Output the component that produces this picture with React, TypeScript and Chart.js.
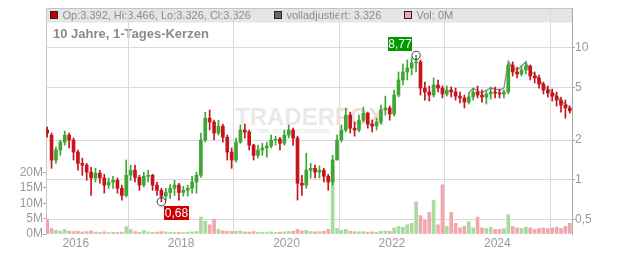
import React, { useEffect, useRef } from "react";
import { Chart, registerables } from "chart.js";

Chart.register(...registerables);

const months: string[] = [
  "2015-06", "2015-07", "2015-08", "2015-09", "2015-10", "2015-11", "2015-12",
  "2016-01", "2016-02", "2016-03", "2016-04", "2016-05", "2016-06", "2016-07", "2016-08", "2016-09", "2016-10", "2016-11", "2016-12",
  "2017-01", "2017-02", "2017-03", "2017-04", "2017-05", "2017-06", "2017-07", "2017-08", "2017-09", "2017-10", "2017-11", "2017-12",
  "2018-01", "2018-02", "2018-03", "2018-04", "2018-05", "2018-06", "2018-07", "2018-08", "2018-09", "2018-10", "2018-11", "2018-12",
  "2019-01", "2019-02", "2019-03", "2019-04", "2019-05", "2019-06", "2019-07", "2019-08", "2019-09", "2019-10", "2019-11", "2019-12",
  "2020-01", "2020-02", "2020-03", "2020-04", "2020-05", "2020-06", "2020-07", "2020-08", "2020-09", "2020-10", "2020-11", "2020-12",
  "2021-01", "2021-02", "2021-03", "2021-04", "2021-05", "2021-06", "2021-07", "2021-08", "2021-09", "2021-10", "2021-11", "2021-12",
  "2022-01", "2022-02", "2022-03", "2022-04", "2022-05", "2022-06", "2022-07", "2022-08", "2022-09", "2022-10", "2022-11", "2022-12",
  "2023-01", "2023-02", "2023-03", "2023-04", "2023-05", "2023-06", "2023-07", "2023-08", "2023-09", "2023-10", "2023-11", "2023-12",
  "2024-01", "2024-02", "2024-03", "2024-04", "2024-05", "2024-06", "2024-07", "2024-08", "2024-09", "2024-10", "2024-11", "2024-12",
  "2025-01", "2025-02", "2025-03", "2025-04", "2025-05",
];

const openPrices: number[] = [
  2.38, 2.18, 1.41, 1.68, 1.93, 2.18, 2.0,
  1.62, 1.33, 1.29, 1.14, 1.03, 1.12, 1.03, 0.91, 0.96, 0.99, 0.86, 0.76,
  1.08, 1.18, 1.04, 0.91, 1.06, 1.08, 0.91, 0.83, 0.75, 0.8, 0.86, 0.91,
  0.8, 0.83, 0.86, 0.96, 1.08, 2.0, 2.93, 2.74, 2.26, 2.55, 2.1, 1.62,
  1.41, 1.93, 2.38, 2.3, 1.83, 1.53, 1.68, 1.74, 1.8, 2.0, 2.03, 1.89,
  2.18, 2.38, 2.07, 0.94, 0.91, 1.18, 1.22, 1.14, 1.18, 1.06, 0.96, 1.41,
  2.0, 2.38, 3.09, 2.46, 2.38, 2.83, 3.2, 2.64, 2.55, 2.74, 3.38, 3.5,
  3.15, 4.39, 5.71, 6.57, 7.04, 7.69, 7.83, 4.96, 4.63, 4.39, 5.23, 4.96,
  4.47, 4.79, 4.63, 4.31, 4.17, 3.88, 4.24, 4.63, 4.39, 4.24, 4.47, 4.63,
  4.55, 4.47, 4.63, 7.42, 6.57, 6.34, 6.8, 7.3, 6.12, 5.91, 5.32, 4.79,
  4.55, 4.31, 4.02, 3.68, 3.5,
];

const highPrices: number[] = [
  2.51, 2.26, 1.77, 2.0, 2.34, 2.26, 2.07,
  1.68, 1.46, 1.33, 1.24, 1.22, 1.18, 1.1, 1.03, 1.06, 1.03, 0.91, 1.41,
  1.29, 1.29, 1.08, 1.14, 1.18, 1.1, 0.96, 0.86, 0.86, 0.92, 0.99, 0.94,
  0.89, 0.91, 1.06, 1.14, 2.26, 3.26, 3.38, 2.83, 2.83, 2.64, 2.18, 1.74,
  2.07, 2.6, 2.64, 2.38, 1.86, 1.83, 1.89, 1.93, 2.18, 2.14, 2.1, 2.38,
  2.6, 2.46, 2.14, 1.08, 1.59, 1.33, 1.29, 1.27, 1.22, 1.1, 1.53, 2.18,
  2.6, 3.5, 3.26, 2.74, 3.09, 3.56, 3.26, 2.83, 2.93, 3.68, 4.31, 3.62,
  4.79, 6.57, 7.56, 8.1, 8.39, 8.77, 8.1, 5.51, 5.14, 5.91, 5.71, 5.14,
  5.14, 5.05, 4.96, 4.63, 4.39, 4.55, 4.96, 5.14, 4.79, 4.71, 5.05, 5.05,
  4.88, 4.79, 7.56, 7.83, 7.17, 7.3, 7.83, 7.42, 6.57, 6.23, 5.51, 5.14,
  4.88, 4.63, 4.24, 4.02, 3.62,
];

const lowPrices: number[] = [
  2.1, 1.22, 1.33, 1.53, 1.83, 1.74, 1.41,
  1.18, 1.08, 0.99, 0.76, 0.96, 0.94, 0.79, 0.86, 0.86, 0.79, 0.7, 0.74,
  0.99, 0.96, 0.83, 0.88, 0.96, 0.83, 0.76, 0.68, 0.7, 0.72, 0.76, 0.7,
  0.75, 0.75, 0.79, 0.79, 1.04, 1.93, 2.38, 2.0, 2.18, 1.93, 1.41, 1.22,
  1.36, 1.89, 2.07, 1.68, 1.41, 1.46, 1.53, 1.48, 1.74, 1.83, 1.68, 1.83,
  2.07, 1.83, 0.7, 0.76, 0.86, 1.03, 1.03, 1.03, 0.96, 0.83, 0.91, 1.41,
  1.93, 2.3, 2.26, 2.14, 2.3, 2.74, 2.46, 2.3, 2.38, 2.64, 3.09, 2.83,
  3.04, 4.24, 5.23, 5.71, 6.23, 6.57, 4.39, 4.02, 3.95, 4.24, 4.63, 4.17,
  4.31, 4.24, 4.02, 3.82, 3.5, 3.75, 4.02, 4.17, 3.88, 3.75, 4.09, 4.17,
  4.17, 4.17, 4.47, 6.12, 5.91, 6.12, 6.34, 5.71, 5.42, 4.96, 4.47, 4.24,
  3.95, 3.62, 3.26, 2.93, 3.2,
];

const closePrices: number[] = [
  2.26, 1.41, 1.68, 1.93, 2.18, 2.0, 1.62,
  1.33, 1.29, 1.14, 1.03, 1.12, 1.03, 0.91, 0.96, 0.99, 0.86, 0.76, 1.08,
  1.18, 1.04, 0.91, 1.06, 1.08, 0.91, 0.83, 0.75, 0.8, 0.86, 0.91, 0.8,
  0.83, 0.86, 0.96, 1.08, 2.0, 2.93, 2.74, 2.26, 2.55, 2.1, 1.62, 1.41,
  1.93, 2.38, 2.3, 1.83, 1.53, 1.68, 1.74, 1.8, 2.0, 2.03, 1.89, 2.18,
  2.38, 2.07, 0.94, 0.91, 1.18, 1.22, 1.14, 1.18, 1.06, 0.96, 1.41, 2.0,
  2.38, 3.09, 2.46, 2.38, 2.83, 3.2, 2.64, 2.55, 2.74, 3.38, 3.5, 3.15,
  4.39, 5.71, 6.57, 7.04, 7.69, 7.83, 4.96, 4.63, 4.39, 5.23, 4.96, 4.47,
  4.79, 4.63, 4.31, 4.17, 3.88, 4.24, 4.63, 4.39, 4.24, 4.47, 4.63, 4.55,
  4.47, 4.63, 7.42, 6.57, 6.34, 6.8, 7.3, 6.12, 5.91, 5.32, 4.79, 4.55,
  4.31, 4.02, 3.68, 3.5, 3.33,
];

// "volladjustiert" line, visible from June 2023 on
const adjustedStart = "2023-06";
const adjustedPrices: number[] = [
  4.55, 4.96, 4.71, 4.55, 4.79, 4.96, 4.88,
  4.79, 4.96, 7.96, 7.04, 6.8, 7.3, 7.83, 6.57, 6.34, 5.71, 5.14, 4.88,
  4.63, 4.31, 3.95, 3.75, 3.55,
];

// volume in millions
const volumes: number[] = [
  4.8, 1.8, 1.2, 1.0, 1.5, 0.9, 0.8,
  0.9, 0.7, 0.8, 1.0, 0.6, 0.5, 0.7, 0.5, 0.6, 0.5, 0.6, 2.4,
  1.5, 0.8, 0.6, 1.2, 0.7, 0.5, 0.6, 0.8, 0.7, 0.6, 0.5, 0.6,
  0.5, 0.6, 0.7, 0.8, 5.5, 4.2, 3.0, 4.8, 1.5, 1.0, 0.9, 0.8,
  0.9, 1.0, 0.7, 0.6, 0.8, 0.6, 0.5, 0.6, 0.7, 0.5, 0.6, 0.7,
  0.8, 0.9, 1.5, 1.0, 1.2, 0.8, 0.7, 0.8, 0.9, 1.5, 22.0, 1.8,
  1.2, 1.5, 0.9, 0.8, 0.7, 0.8, 0.6, 0.7, 0.6, 0.9, 1.0, 0.9,
  2.0, 2.5, 2.2, 3.0, 3.5, 10.5, 6.0, 4.5, 7.0, 11.0, 3.0, 16.0,
  2.5, 7.0, 3.5, 2.0, 2.5, 4.0, 2.0, 5.5, 2.0, 1.8, 2.2, 1.5,
  1.5, 1.8, 6.3, 2.5, 2.0, 1.8, 2.2, 2.0, 1.5, 1.8, 2.0, 1.8,
  2.0, 2.2, 1.8, 2.5, 3.5,
];

const xTickYears: number[] = [2016, 2018, 2020, 2022, 2024];
const priceTicks: number[] = [0.5, 1, 2, 5, 10];
const volumeTicks: number[] = [0, 5, 10, 15, 20];

const legendOHLC = "Op:3.392, Hi:3.466, Lo:3.326, Cl:3.326";
const legendAdj = "volladjustiert: 3.326";
const legendVol = "Vol: 0M";
const title = "10 Jahre, 1-Tages-Kerzen";

const maxMonth = "2022-06";
const maxLabel = "8,77";
const maxValue = 8.77;
const minMonth = "2017-08";
const minLabel = "0,68";
const minValue = 0.68;

const GREEN = "#3fa535";
const RED = "#c4141c";
const VOL_GREEN = "#a9dba0";
const VOL_RED = "#f2a7af";
const FONT = '"Liberation Sans", Arial, Helvetica, sans-serif';

const toX = (m: string) => {
  const [y, mo] = m.split("-").map(Number);
  return y + (mo - 0.5) / 12;
};

export default function App() {
  const ref = useRef<HTMLCanvasElement>(null);

  useEffect(() => {
    const xs = months.map(toX);
    const isUp = (i: number) => closePrices[i] >= openPrices[i];
    const adjOffset = months.indexOf(adjustedStart);

    const backgroundPlugin = {
      id: "bgLegend",
      beforeDraw(chart: any) {
        const { ctx, chartArea: a } = chart;
        ctx.save();
        ctx.fillStyle = "#e5e5e5";
        ctx.fillRect(a.left, a.top, a.right - a.left, 14.5);
        ctx.strokeStyle = "#c4c4c4";
        ctx.lineWidth = 1;
        ctx.beginPath();
        ctx.moveTo(a.left, a.top + 0.5);
        ctx.lineTo(a.right, a.top + 0.5);
        ctx.stroke();

        const square = (x: number, fill: string) => {
          ctx.fillStyle = fill;
          ctx.fillRect(x, 12, 6, 6);
          ctx.strokeStyle = "#222";
          ctx.strokeRect(x - 0.5, 11.5, 7, 7);
        };
        square(51, "#c40000");
        square(275, "#6a6a6a");
        square(405, VOL_RED);

        ctx.fillStyle = "#8c8c8c";
        ctx.font = `11px ${FONT}`;
        ctx.textBaseline = "middle";
        ctx.textAlign = "left";
        ctx.fillText(legendOHLC, 62.5, 15.8);
        ctx.fillText(legendAdj, 286.5, 15.8);
        ctx.fillText(legendVol, 416.5, 15.8);

        ctx.font = `bold 13px ${FONT}`;
        ctx.textBaseline = "alphabetic";
        ctx.fillStyle = "#8a8a8a";
        ctx.fillText(title, 53, 38);
        ctx.restore();
      },
      beforeDatasetsDraw(chart: any) {
        const { ctx } = chart;
        ctx.save();
        ctx.font = `bold 24px ${FONT}`;
        ctx.textBaseline = "alphabetic";
        ctx.textAlign = "left";
        ctx.fillStyle = "#e9e9e9";
        ctx.fillText("TRADER", 235, 125);
        const w = ctx.measureText("TRADER").width;
        ctx.fillStyle = "#f6d9d9";
        ctx.fillText("FOX", 235 + w, 125);
        ctx.font = `bold 6px ${FONT}`;
        ctx.fillStyle = "#e6e6e6";
        ctx.fillText("REAL TIME STOCK SCREENING", 238, 133);
        ctx.restore();
      },
      afterDatasetsDraw(chart: any) {
        const { ctx, scales } = chart;
        ctx.save();
        ctx.font = `12px ${FONT}`;
        ctx.textAlign = "center";
        ctx.textBaseline = "middle";

        const hx = scales.x.getPixelForValue(toX(maxMonth));
        const hy = scales.price.getPixelForValue(maxValue);
        ctx.strokeStyle = "#333";
        ctx.lineWidth = 1;
        ctx.beginPath();
        ctx.arc(hx, hy, 4.2, 0, Math.PI * 2);
        ctx.stroke();
        ctx.fillStyle = "#009a00";
        ctx.fillRect(Math.round(hx - 28), Math.round(hy - 18), 24, 14);
        ctx.fillStyle = "#ffffff";
        ctx.fillText(maxLabel, Math.round(hx - 28) + 12, Math.round(hy - 18) + 7.5);

        const lx = scales.x.getPixelForValue(toX(minMonth));
        const ly = scales.price.getPixelForValue(minValue);
        ctx.beginPath();
        ctx.arc(lx, ly, 4.2, 0, Math.PI * 2);
        ctx.stroke();
        ctx.fillStyle = "#cc0000";
        ctx.fillRect(Math.round(lx + 3), Math.round(ly + 4), 25, 14);
        ctx.fillStyle = "#ffffff";
        ctx.fillText(minLabel, Math.round(lx + 3) + 12.5, Math.round(ly + 4) + 7.5);
        ctx.restore();
      },
    };

    const candleColor = (c: any) => (isUp(c.dataIndex) ? GREEN : RED);

    const chart = new Chart(ref.current as HTMLCanvasElement, {
      type: "bar",
      data: {
        datasets: [
          {
            type: "bar",
            label: "body",
            data: xs.map((x, i) => ({ x, y: [openPrices[i], closePrices[i]] })) as any,
            backgroundColor: candleColor as any,
            barThickness: 3,
            grouped: false,
            xAxisID: "x",
            yAxisID: "price",
            order: 1,
          },
          {
            type: "bar",
            label: "wick",
            data: xs.map((x, i) => ({ x, y: [lowPrices[i], highPrices[i]] })) as any,
            backgroundColor: candleColor as any,
            barThickness: 1,
            grouped: false,
            xAxisID: "x",
            yAxisID: "price",
            order: 2,
          },
          {
            type: "line",
            label: "volladjustiert",
            data: adjustedPrices.map((v, i) => ({ x: xs[adjOffset + i], y: v })) as any,
            borderColor: "#8a8a8a",
            borderWidth: 1.3,
            pointRadius: 0,
            xAxisID: "x",
            yAxisID: "price",
            order: 3,
          },
          {
            type: "bar",
            label: "Vol",
            data: xs.map((x, i) => ({ x, y: volumes[i] })) as any,
            backgroundColor: ((c: any) => (isUp(c.dataIndex) ? VOL_GREEN : VOL_RED)) as any,
            barThickness: 3,
            grouped: false,
            xAxisID: "x",
            yAxisID: "vol",
            order: 4,
          },
        ],
      },
      options: {
        animation: false,
        responsive: false,
        devicePixelRatio: 1,
        layout: { padding: { top: 8, left: 0, right: 0, bottom: 0 } },
        font: { family: FONT } as any,
        plugins: { legend: { display: false }, tooltip: { enabled: false } },
        scales: {
          x: {
            type: "linear",
            min: 2015.436,
            max: 2025.417,
            offset: false,
            afterBuildTicks: (s: any) => {
              s.ticks = xTickYears.map((v) => ({ value: v }));
            },
            afterFit: (s: any) => {
              s.height = 19;
              s.paddingLeft = 0;
              s.paddingRight = 0;
            },
            ticks: {
              callback: (v: any) => String(v),
              color: "#999",
              font: { size: 12, family: FONT },
              padding: 2,
              maxRotation: 0,
              autoSkip: false,
            },
            grid: { color: "#dadada", drawTicks: false },
            border: { display: false },
          },
          price: {
            type: "logarithmic",
            position: "right",
            min: 0.387,
            max: 20.1,
            afterBuildTicks: (s: any) => {
              s.ticks = priceTicks.map((v) => ({ value: v }));
            },
            afterFit: (s: any) => {
              s.width = 60;
              s.paddingTop = 0;
              s.paddingBottom = 0;
            },
            ticks: {
              callback: (v: any) => String(v).replace(".", ","),
              color: "#999",
              font: { size: 12, family: FONT },
              padding: 0,
              autoSkip: false,
            },
            grid: { color: "#dadada", tickLength: 3, tickColor: "#aaa" } as any,
            border: { display: true, color: "#aaa" },
          },
          vol: {
            type: "linear",
            position: "left",
            min: 0,
            max: 73.6,
            afterBuildTicks: (s: any) => {
              s.ticks = volumeTicks.map((v) => ({ value: v }));
            },
            afterFit: (s: any) => {
              s.width = 46;
              s.paddingTop = 0;
              s.paddingBottom = 0;
            },
            ticks: {
              callback: (v: any) => `${v}M`,
              color: "#999",
              font: { size: 12, family: FONT },
              padding: 0,
              autoSkip: false,
            },
            grid: { drawOnChartArea: false, tickLength: 3, color: "#aaa" },
            border: { display: true, color: "#c8c8c8" },
          },
        },
      },
      plugins: [backgroundPlugin],
    } as any);

    return () => chart.destroy();
  }, []);

  return (
    <div style={{ position: "absolute", left: 0, top: 0, width: 632, height: 253 }}>
      <canvas ref={ref} width={632} height={253} style={{ display: "block", width: 632, height: 253 }} />
    </div>
  );
}
